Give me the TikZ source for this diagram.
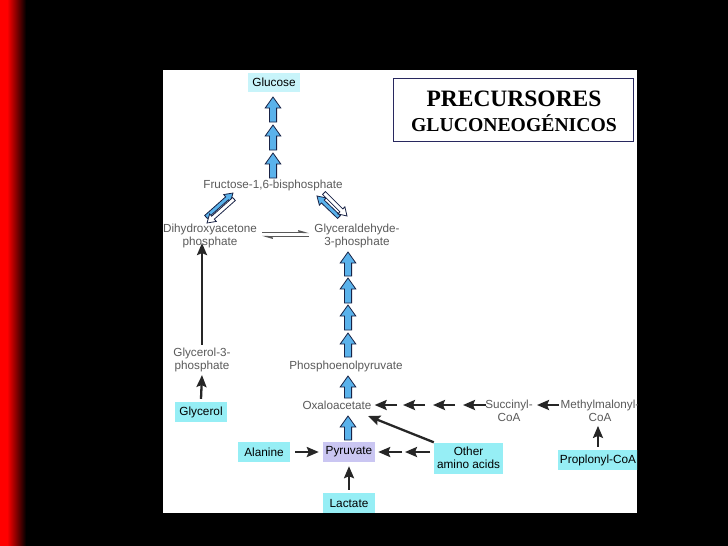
\documentclass[tikz,border=0pt]{standalone}
\usepackage{fontspec}
\setmainfont{Liberation Sans}
\newfontfamily\titlefont{Liberation Serif}
\usetikzlibrary{arrows.meta,calc}
\definecolor{cyanbox}{RGB}{150,238,245}
\definecolor{palecyan}{RGB}{200,244,250}
\definecolor{lav}{RGB}{202,198,242}
\definecolor{arrblue}{RGB}{90,178,235}
\definecolor{arredge}{RGB}{25,35,70}
\definecolor{txtgray}{RGB}{90,90,90}
\definecolor{navy}{RGB}{40,40,95}
\tikzset{
  lbl/.style={text=txtgray, font=\fontsize{11.7}{12.8}\selectfont, align=center, inner sep=0pt},
  boxlbl/.style={fill=cyanbox, text=black, font=\fontsize{11.8}{13}\selectfont, align=center, inner sep=0pt, minimum height=20pt},
  blk/.style={line width=2.3pt, draw=black!85, -{Stealth[length=12pt,width=10pt,inset=2pt]}},
  bluearr/.style={fill=arrblue, draw=arredge, line width=0.8pt, line join=miter},
  whitearr/.style={fill=white, draw=arredge, line width=0.8pt, line join=miter},
  eqarr/.style={line width=1.4pt, draw=black!65, -{Straight Barb[left,length=6pt,width=3.5pt]}},
}
% #1 style, #2 tail, #3 tip, #4 half shaft, #5 half head, #6 head length
\newcommand\blockarrow[6]{%
  \coordinate (bahead) at ($(#3)!#6!(#2)$);
  \draw[#1] ($(#2)!#4!90:(#3)$) -- ($(bahead)!#4!-90:(#2)$) -- ($(bahead)!#5!-90:(#2)$)
    -- (#3) -- ($(bahead)!#5!90:(#2)$) -- ($(bahead)!#4!90:(#2)$) -- ($(#2)!#4!-90:(#3)$) -- cycle;}
\begin{document}
\begin{tikzpicture}[x=1pt,y=-1pt]
\useasboundingbox (0,0) rectangle (728,546);
\fill[black] (0,0) rectangle (728,546);
\fill[red] (0,0) rectangle (7,546);
\shade[left color=red, right color=black] (7,0) rectangle (26,546);
\fill[white] (163,70) rectangle (637,513);
\begin{scope}
\clip (163,70) rectangle (637,513);
% title box
\node[draw=navy, line width=0.7pt, minimum width=240pt, minimum height=63pt, inner sep=0pt] (title) at (513,110) {};
\node[anchor=base, inner sep=0pt, font=\titlefont\bfseries\fontsize{23.5}{26}\selectfont] (t1) at (514,106) {PRECURSORES};
\node[anchor=base, inner sep=0pt, font=\titlefont\bfseries\fontsize{19.7}{22}\selectfont] (t2) at (514,131) {GLUCONEOGÉNICOS};
% nodes
\node[boxlbl, fill=palecyan, minimum width=52pt, minimum height=19pt] (glucose) at (274,82) {Glucose};
\node[lbl] (fbp) at (273,185) {Fructose-1,6-bisphosphate};
\node[lbl] (dhap) at (210,236) {Dihydroxyacetone\\phosphate};
\node[lbl] (gap) at (357,236) {Glyceraldehyde-\\3-phosphate};
\node[lbl] (g3p) at (202,360) {Glycerol-3-\\phosphate};
\node[boxlbl, minimum width=52pt] (glycerol) at (201,412) {Glycerol};
\node[lbl] (pep) at (346,366) {Phosphoenolpyruvate};
\node[lbl] (oaa) at (337,405) {Oxaloacetate};
\node[boxlbl, fill=lav, minimum width=52pt] (pyr) at (349,452) {Pyruvate};
\node[boxlbl, minimum width=52pt] (ala) at (264,452) {Alanine};
\node[boxlbl, minimum width=52pt] (lac) at (349,503) {Lactate};
\node[boxlbl, minimum width=69pt, minimum height=31pt] (other) at (468.5,458) {Other\\amino acids};
\node[lbl] (succ) at (509,411) {Succinyl-\\CoA};
\node[lbl] (mmc) at (600,411) {Methylmalonyl-\\CoA};
\node[boxlbl, minimum width=80pt] (prop) at (598,460) {Proplonyl-CoA};
% blue block arrows: glucose column
\blockarrow{bluearr}{273,122}{273,97}{3.6pt}{7.8pt}{11pt}
\blockarrow{bluearr}{273,150}{273,125}{3.6pt}{7.8pt}{11pt}
\blockarrow{bluearr}{273,178}{273,153}{3.6pt}{7.8pt}{11pt}
% right column
\blockarrow{bluearr}{348,276}{348,252}{3.6pt}{7.8pt}{11pt}
\blockarrow{bluearr}{348,303}{348,278}{3.6pt}{7.8pt}{11pt}
\blockarrow{bluearr}{348,330}{348,305}{3.6pt}{7.8pt}{11pt}
\blockarrow{bluearr}{348,357}{348,333}{3.6pt}{7.8pt}{11pt}
\blockarrow{bluearr}{348,398}{348,376}{3.6pt}{7.8pt}{11pt}
\blockarrow{bluearr}{348,440}{348,416}{3.6pt}{7.8pt}{11pt}
% diagonal pairs
\blockarrow{bluearr}{206,217}{233,193}{2pt}{5pt}{8pt}
\blockarrow{whitearr}{234,199}{207,223}{2pt}{5pt}{8pt}
\blockarrow{bluearr}{339,217}{317,196}{2pt}{5pt}{8pt}
\blockarrow{whitearr}{324,193}{347,216}{2pt}{5pt}{8pt}
% equilibrium
\draw[eqarr] (262,232.5) -- (309,232.5);
\draw[eqarr] (309,236.5) -- (262,236.5);
% black arrows
\draw[blk] ($(glycerol.north)+(0,-3)$) -- ($(g3p.south)+(0,3)$);
\draw[blk] ($(g3p.north)+(0,-3)$) -- ($(g3p.north |- dhap.south)+(0,-5)$);
\draw[blk] ($(ala.east)+(5,0)$) -- ($(pyr.west)+(-4,0)$);
\draw[blk] ($(lac.north)+(0,-3)$) -- ($(pyr.south)+(0,4)$);
\coordinate (o1) at (430,452);
\coordinate (o2) at (405,452);
\coordinate (o3) at (402,452);
\draw[blk] (o1) -- (o2);
\draw[blk] (o3) -- ($(pyr.east)+(3,0)$);
\coordinate (oaatip) at (368,416);
\draw[blk] (other.north west) -- (oaatip);
\coordinate (s1) at (486,405);
\coordinate (s2) at (463,405);
\coordinate (s3) at (455,405);
\coordinate (s4) at (433,405);
\coordinate (s5) at (425,405);
\coordinate (s6) at (403,405);
\coordinate (s7) at (397,405);
\draw[blk] (s1) -- (s2);
\draw[blk] (s3) -- (s4);
\draw[blk] (s5) -- (s6);
\draw[blk] (s7) -- ($(oaa.east)+(3,0)$);
\coordinate (m1) at (559,405);
\coordinate (m2) at (537,405);
\draw[blk] (m1) -- (m2);
\draw[blk] ($(prop.north)+(0,-3)$) -- ($(mmc.south)+(-2,4)$);
\end{scope}
\end{tikzpicture}
\end{document}
